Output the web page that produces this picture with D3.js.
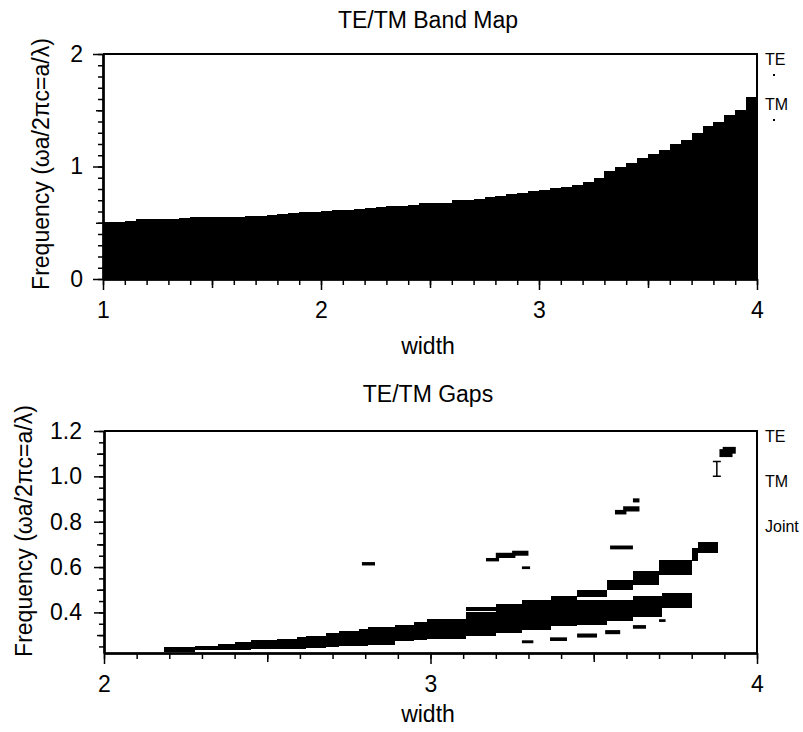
<!DOCTYPE html>
<html>
<head>
<meta charset="utf-8">
<script src="https://cdn.jsdelivr.net/npm/d3@7/dist/d3.min.js"></script>
<style>
body { margin: 0; background: #fff; }
text { font-family: 'Liberation Sans', Arial, sans-serif; fill: #000; }
.axis path, .axis line { stroke: #000; }
</style>
</head>
<body>
<div id="chart"></div>
<script>
// ---- Band map (top panel): upper edge of the first band vs. width ----
const bandWidths = [
    1.00, 1.05, 1.10, 1.15, 1.20, 1.25, 1.30, 1.35, 1.40, 1.45,
    1.50, 1.55, 1.60, 1.65, 1.70, 1.75, 1.80, 1.85, 1.90, 1.95,
    2.00, 2.05, 2.10, 2.15, 2.20, 2.25, 2.30, 2.35, 2.40, 2.45,
    2.50, 2.55, 2.60, 2.65, 2.70, 2.75, 2.80, 2.85, 2.90, 2.95,
    3.00, 3.05, 3.10, 3.15, 3.20, 3.25, 3.30, 3.35, 3.40, 3.45,
    3.50, 3.55, 3.60, 3.65, 3.70, 3.75, 3.80, 3.85, 3.90, 3.95, 4.00
];
const bandTop = [
    0.510, 0.510, 0.520, 0.533, 0.533, 0.533, 0.533, 0.540, 0.548, 0.548,
    0.548, 0.548, 0.555, 0.563, 0.563, 0.570, 0.580, 0.590, 0.598, 0.598,
    0.605, 0.610, 0.615, 0.625, 0.632, 0.640, 0.645, 0.652, 0.660, 0.675,
    0.675, 0.680, 0.699, 0.700, 0.710, 0.729, 0.740, 0.756, 0.765, 0.779,
    0.790, 0.806, 0.820, 0.838, 0.860, 0.900, 0.963, 1.000, 1.030, 1.076,
    1.110, 1.149, 1.200, 1.240, 1.300, 1.360, 1.400, 1.460, 1.500, 1.620, 1.660
];

// ---- Gaps (bottom panel) ----
// main (lower) gap
const mainGapWidths = [2.185, 2.20, 2.28, 2.35, 2.40, 2.45, 2.53, 2.59, 2.62, 2.68, 2.72, 2.78,
    2.81, 2.89, 2.95, 2.99, 3.11, 3.20, 3.28, 3.37, 3.45, 3.54, 3.62, 3.71, 3.80];
const mainGapLow = [0.224, 0.224, 0.236, 0.236, 0.236, 0.239, 0.239, 0.240, 0.243, 0.247, 0.253, 0.253,
    0.258, 0.272, 0.277, 0.283, 0.294, 0.309, 0.324, 0.338, 0.345, 0.360, 0.380, 0.420, 0.420];
const mainGapHigh = [0.246, 0.247, 0.253, 0.262, 0.271, 0.278, 0.284, 0.291, 0.297, 0.309, 0.319, 0.327,
    0.336, 0.346, 0.358, 0.371, 0.400, 0.420, 0.440, 0.456, 0.456, 0.456, 0.474, 0.485, 0.485];

// upper gap branching off around width 3.1
const upperGapWidths = [3.11, 3.20, 3.28, 3.37, 3.45, 3.54, 3.62, 3.70, 3.80, 3.82, 3.88];
const upperGapLow = [0.405, 0.410, 0.430, 0.450, 0.466, 0.500, 0.522, 0.566, 0.625, 0.662, 0.662];
const upperGapHigh = [0.422, 0.438, 0.456, 0.474, 0.500, 0.544, 0.581, 0.629, 0.684, 0.710, 0.710];

// small isolated gaps: [width from, width to, freq low, freq high]
const splinterGaps = [
    [2.79, 2.83, 0.607, 0.622],
    [3.17, 3.21, 0.625, 0.640],
    [3.20, 3.26, 0.640, 0.663],
    [3.25, 3.30, 0.650, 0.672],
    [3.28, 3.305, 0.591, 0.603],
    [3.28, 3.315, 0.264, 0.277],
    [3.366, 3.418, 0.274, 0.290],
    [3.449, 3.51, 0.289, 0.307],
    [3.535, 3.581, 0.304, 0.322],
    [3.62, 3.66, 0.328, 0.344],
    [3.70, 3.72, 0.358, 0.370],
    [3.55, 3.62, 0.678, 0.695],
    [3.565, 3.60, 0.832, 0.852],
    [3.59, 3.64, 0.845, 0.868],
    [3.62, 3.64, 0.885, 0.903],
    [3.885, 3.925, 1.085, 1.120],
    [3.895, 3.935, 1.100, 1.130]
];

// joint gap marker
const jointWidth = [3.877];
const jointRange = [1.000, 1.065];

// ---- ticks and labels ----
const topXTicks = [1, 2, 3, 4];
const topYTicks = [0, 1, 2];
const bottomXTicks = [2, 3, 4];
const bottomYTicks = [0.4, 0.6, 0.8, 1.0, 1.2];
const yLabel = 'Frequency (ωa/2πc=a/λ)';

const svg = d3.select('#chart')
    .append('svg')
    .attr('width', 803)
    .attr('height', 732);

svg.append('rect')
    .attr('width', 803)
    .attr('height', 732)
    .attr('fill', '#fff');

// Draws frame, ticks and labels for one panel
function drawPanel(p) {
    const { x, y } = p;
    const [x0, x1] = x.range();
    const [y0, y1] = y.range();
    const g = svg.append('g');

    // minor, middle and major ticks on the x axis
    const xAxes = [
        { values: p.xMinor, size: 6 },
        { values: p.xMid, size: 9 },
        { values: p.xMajor, size: 11, labels: true }
    ];
    xAxes.forEach(a => {
        const axis = d3.axisBottom(x)
            .tickValues(a.values)
            .tickSize(a.size)
            .tickSizeOuter(0)
            .tickPadding(12);
        if (!a.labels) axis.tickFormat('');
        else axis.tickFormat(d3.format('d'));
        const ax = g.append('g')
            .attr('class', 'axis')
            .attr('transform', `translate(0,${y0})`)
            .call(axis);
        ax.select('.domain').style('stroke-width', 2);
        ax.selectAll('line').style('stroke-width', 1.5);
        ax.selectAll('text').style('font-size', '23px');
    });

    const yAxes = [
        { values: p.yMinor, size: 5 },
        { values: p.yMid, size: 7 },
        { values: p.yMajor, size: 10, labels: true }
    ];
    yAxes.forEach(a => {
        const axis = d3.axisLeft(y)
            .tickValues(a.values)
            .tickSize(a.size)
            .tickSizeOuter(0)
            .tickPadding(p.yPad);
        if (!a.labels) axis.tickFormat('');
        else axis.tickFormat(p.yFormat);
        const ax = g.append('g')
            .attr('class', 'axis')
            .attr('transform', `translate(${x0},0)`)
            .call(axis);
        ax.select('.domain').style('stroke-width', 2);
        ax.selectAll('line').style('stroke-width', 1.5);
        ax.selectAll('text').style('font-size', '23px');
    });

    // top and right frame lines
    g.append('path')
        .attr('d', `M${x0},${y1}H${x1}V${y0}`)
        .attr('fill', 'none')
        .attr('stroke', '#000')
        .attr('stroke-width', 2);

    // titles
    g.append('text')
        .attr('x', 428)
        .attr('y', p.titleY)
        .attr('text-anchor', 'middle')
        .style('font-size', '23px')
        .text(p.title);

    g.append('text')
        .attr('x', 428)
        .attr('y', p.xLabelY)
        .attr('text-anchor', 'middle')
        .style('font-size', '23px')
        .text('width');

    g.append('text')
        .attr('transform', `translate(${p.yLabelX},${p.yLabelMid}) rotate(-90)`)
        .attr('text-anchor', 'middle')
        .style('font-size', '23px')
        .text(yLabel);

    // legend on the right
    p.legend.forEach(l => {
        g.append('text')
            .attr('x', 765)
            .attr('y', l.y)
            .style('font-size', '16px')
            .text(l.text);
        if (l.dot) {
            g.append('rect')
                .attr('x', 773)
                .attr('y', l.y + 9)
                .attr('width', 2)
                .attr('height', 2)
                .attr('fill', '#000');
        }
    });
}

// ---- top panel ----
const xTop = d3.scaleLinear().domain([1, 4]).range([103, 757]);
const yTop = d3.scaleLinear().domain([0, 2]).range([279, 54]);

const bandData = bandWidths.map((w, i) => ({ w, top: bandTop[i] }));

svg.append('path')
    .datum(bandData)
    .attr('fill', '#000')
    .attr('shape-rendering', 'crispEdges')
    .attr('d', d3.area()
        .curve(d3.curveStepAfter)
        .x(d => xTop(d.w))
        .y0(yTop(0))
        .y1(d => yTop(d.top)));

drawPanel({
    x: xTop,
    y: yTop,
    xMinor: d3.range(1, 4.001, 0.1),
    xMid: d3.range(1.5, 4, 1),
    xMajor: topXTicks,
    yMinor: d3.range(0, 2.001, 0.1),
    yMid: [0.5, 1.5],
    yMajor: topYTicks,
    yFormat: d3.format('d'),
    yPad: 10,
    title: 'TE/TM Band Map',
    titleY: 28,
    xLabelY: 354,
    yLabelX: 49,
    yLabelMid: 164,
    legend: [
        { text: 'TE', y: 65, dot: true },
        { text: 'TM', y: 110, dot: true }
    ]
});

// ---- bottom panel ----
const xBot = d3.scaleLinear().domain([2, 4]).range([104, 757]);
const yBot = d3.scaleLinear().domain([0.221, 1.2]).range([653, 431]);

const gapArea = d3.area()
    .curve(d3.curveStepAfter)
    .x(d => xBot(d.w))
    .y0(d => yBot(d.lo))
    .y1(d => yBot(d.hi));

const gapSeries = [
    mainGapWidths.map((w, i) => ({ w, lo: mainGapLow[i], hi: mainGapHigh[i] })),
    upperGapWidths.map((w, i) => ({ w, lo: upperGapLow[i], hi: upperGapHigh[i] }))
];

const gapLayer = svg.append('g');

gapLayer.selectAll('path.gap')
    .data(gapSeries)
    .enter().append('path')
    .attr('class', 'gap')
    .attr('fill', '#000')
    .attr('shape-rendering', 'crispEdges')
    .attr('d', gapArea);

gapLayer.selectAll('rect.splinter')
    .data(splinterGaps)
    .enter().append('rect')
    .attr('class', 'splinter')
    .attr('fill', '#000')
    .attr('x', d => xBot(d[0]))
    .attr('width', d => xBot(d[1]) - xBot(d[0]))
    .attr('y', d => yBot(d[3]))
    .attr('height', d => yBot(d[2]) - yBot(d[3]));

// I-shaped joint gap marker
const jx = xBot(jointWidth[0]);
gapLayer.append('path')
    .attr('d', `M${jx},${yBot(jointRange[0])}V${yBot(jointRange[1])}` +
        `M${jx - 4},${yBot(jointRange[0])}H${jx + 4}` +
        `M${jx - 4},${yBot(jointRange[1])}H${jx + 4}`)
    .attr('stroke', '#000')
    .attr('stroke-width', 1.5)
    .attr('fill', 'none');

drawPanel({
    x: xBot,
    y: yBot,
    xMinor: d3.range(2, 4.001, 0.1),
    xMid: [2.5, 3.5],
    xMajor: bottomXTicks,
    yMinor: d3.range(0.25, 1.2001, 0.05),
    yMid: d3.range(0.3, 1.2, 0.2),
    yMajor: bottomYTicks,
    yFormat: d3.format('.1f'),
    yPad: 12,
    title: 'TE/TM Gaps',
    titleY: 402,
    xLabelY: 722,
    yLabelX: 32,
    yLabelMid: 531,
    legend: [
        { text: 'TE', y: 442 },
        { text: 'TM', y: 487 },
        { text: 'Joint', y: 532 }
    ]
});
</script>
</body>
</html>
